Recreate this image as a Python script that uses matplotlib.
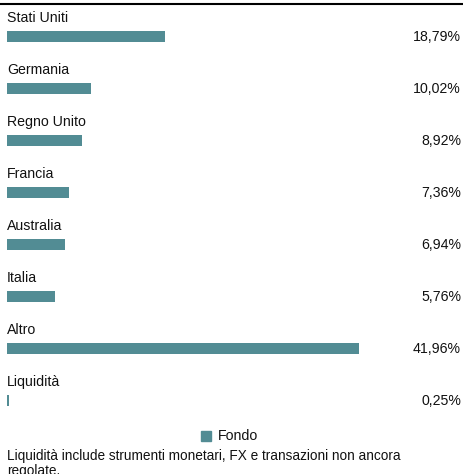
import matplotlib.pyplot as plt
from matplotlib.lines import Line2D
from matplotlib.patches import Rectangle

countries = ["Stati Uniti", "Germania", "Regno Unito", "Francia",
             "Australia", "Italia", "Altro", "Liquidità"]
weights = [18.79, 10.02, 8.92, 7.36, 6.94, 5.76, 41.96, 0.25]
labels = ["18,79%", "10,02%", "8,92%", "7,36%", "6,94%", "5,76%", "41,96%", "0,25%"]
note = "Liquidità include strumenti monetari, FX e transazioni non ancora\nregolate."

W, H = 464, 474
bar_color = "#528c94"
px_per_unit = 8.4   # pixels per percent
row_px = 52         # pixels between rows
first_px = 36       # y pixel of first bar centre

plt.rcParams["font.family"] = ["Liberation Sans", "DejaVu Sans"]

fig = plt.figure(figsize=(W / 100, H / 100), dpi=100)
ax = fig.add_axes([0, 0, 1, 1])
ax.set_xlim(-7 / px_per_unit, (W - 7) / px_per_unit)
ax.set_ylim((H - first_px) / row_px, -first_px / row_px)
ax.axis("off")

ys = list(range(len(countries)))
ax.barh(ys, weights, height=11 / row_px, color=bar_color, align="center")

for y, name, lab in zip(ys, countries, labels):
    ax.text(0, y - 18 / row_px, name, ha="left", va="center", fontsize=10.2, color="#111111")
    ax.text((461 - 7) / px_per_unit, y + 1 / row_px, lab, ha="right", va="center",
            fontsize=10.2, color="#111111")

# top rule
fig.add_artist(Line2D([0, 1], [1 - 4 / H, 1 - 4 / H], color="black", linewidth=1.5))

# legend
fig.add_artist(Rectangle((201 / W, 1 - 441 / H), 10 / W, 10 / H, color=bar_color,
                         transform=fig.transFigure))
fig.text(218 / W, 1 - 436 / H, "Fondo", ha="left", va="center", fontsize=10.2, color="#111111")

fig.text(7 / W, 1 - 449 / H, note, ha="left", va="top", fontsize=9.8, color="#111111",
         linespacing=1.1)

fig.savefig("out.png", dpi=100)
